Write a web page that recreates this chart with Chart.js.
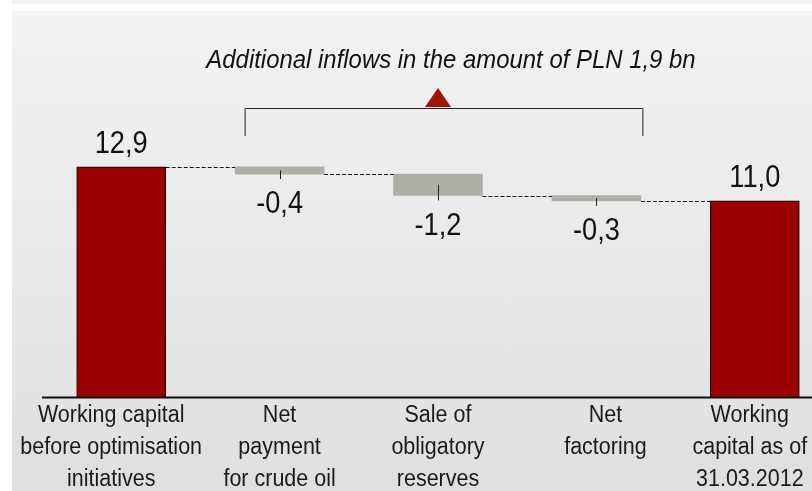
<!DOCTYPE html>
<html>
<head>
<meta charset="utf-8">
<script src="https://cdn.jsdelivr.net/npm/chart.js@4.4.1/dist/chart.umd.min.js"></script>
<style>
  html, body { margin: 0; padding: 0; background: #fff; overflow: hidden; }
  #wrap { position: relative; width: 812px; height: 491px; overflow: hidden; }
  #strip { position: absolute; left: 12px; top: 0; width: 800px; height: 4px; background: #f2f2f2; }
  #panel { position: absolute; left: 12px; top: 11px; width: 800px; height: 480px;
           background: linear-gradient(#f3f3f3, #dfdfdf); }
  canvas { position: absolute; left: 0; top: 0; }
</style>
</head>
<body>
<div id="wrap">
  <div id="strip"></div>
  <div id="panel"></div>
  <canvas id="chart" width="850" height="491"></canvas>
</div>
<script>
// categories, one line per entry
const categories = [
  ['Working capital', 'before optimisation', 'initiatives'],
  ['Net', 'payment', 'for crude oil'],
  ['Sale of', 'obligatory', 'reserves'],
  ['Net', 'factoring'],
  ['Working', 'capital as of', '31.03.2012']
]
const changes = [12.9, -0.4, -1.2, -0.3, 11.0]
const isTotal = [true, false, false, false, true]
const valueLabels = ['12,9', '-0,4', '-1,2', '-0,3', '11,0']
const title = 'Additional inflows in the amount of PLN 1,9 bn'

// floating ranges for the waterfall
let running = 0
const ranges = changes.map((v, i) => {
  if (isTotal[i]) { running = v; return [0, v] }
  const from = running
  running = running + v
  return [running, from]
})
const levels = ranges.map((r, i) => isTotal[i] ? r[1] : r[0])

const RED = '#9b0000'
const GREY = '#afafa8'
const FONT = '"Liberation Sans", Arial, sans-serif'
// small nudges of the category captions, the source placed them by hand
const labelShift = [-10, 0, 0, 9, -5]

// the source uses a narrow face, so squeeze the text a bit
function text(ctx, str, x, y, font, sx) {
  ctx.save()
  ctx.translate(x, y)
  ctx.scale(sx, 1)
  ctx.font = font
  ctx.textAlign = 'center'
  ctx.textBaseline = 'alphabetic'
  ctx.fillText(str, 0, 0)
  ctx.restore()
}

const decorations = {
  id: 'decorations',
  afterDatasetsDraw(chart) {
    const { ctx, chartArea } = chart
    const xs = chart.scales.x
    const ys = chart.scales.y
    const bars = chart.getDatasetMeta(0).data

    // connectors
    ctx.save()
    ctx.strokeStyle = '#111'
    ctx.lineWidth = 1
    ctx.setLineDash([4, 2])
    for (let i = 0; i < bars.length - 1; i++) {
      const y = Math.round(ys.getPixelForValue(levels[i])) + 0.5
      ctx.beginPath()
      ctx.moveTo(bars[i].x + bars[i].width / 2, y)
      ctx.lineTo(bars[i + 1].x - bars[i + 1].width / 2, y)
      ctx.stroke()
    }
    ctx.restore()

    // small leader ticks on the change bars
    ctx.save()
    ctx.strokeStyle = '#222'
    ctx.lineWidth = 1
    bars.forEach((b, i) => {
      if (isTotal[i]) return
      const top = ys.getPixelForValue(ranges[i][1])
      const bottom = ys.getPixelForValue(ranges[i][0])
      const x = Math.round(b.x) + 0.5
      ctx.beginPath()
      ctx.moveTo(x, (top + bottom) / 2)
      ctx.lineTo(x, bottom + 5)
      ctx.stroke()
    })
    ctx.restore()

    // axis line
    ctx.save()
    ctx.strokeStyle = '#111'
    ctx.lineWidth = 2
    ctx.beginPath()
    ctx.moveTo(chartArea.left, chartArea.bottom)
    ctx.lineTo(chartArea.right, chartArea.bottom)
    ctx.stroke()
    ctx.restore()

    // value labels
    ctx.save()
    ctx.fillStyle = '#111'
    bars.forEach((b, i) => {
      if (isTotal[i]) {
        text(ctx, valueLabels[i], b.x, ys.getPixelForValue(ranges[i][1]) - 14, '32px ' + FONT, 0.85)
      } else {
        text(ctx, valueLabels[i], b.x, ys.getPixelForValue(ranges[i][0]) + 39, '32px ' + FONT, 0.85)
      }
    })

    // category captions
    ctx.fillStyle = '#1a1a1a'
    categories.forEach((lines, i) => {
      const x = xs.getPixelForValue(i) + labelShift[i]
      lines.forEach((ln, j) => {
        text(ctx, ln, x, chartArea.bottom + 24.5 + j * 32, '23px ' + FONT, 0.935)
      })
    })

    // bracket over the change bars
    const x1 = xs.getPixelForValue(1) - 35
    const x3 = xs.getPixelForValue(3) + 46
    const mid = xs.getPixelForValue(2)
    ctx.strokeStyle = '#222'
    ctx.lineWidth = 1
    ctx.beginPath()
    ctx.moveTo(x1 + 0.5, 136)
    ctx.lineTo(x1 + 0.5, 108.5)
    ctx.lineTo(x3 + 0.5, 108.5)
    ctx.lineTo(x3 + 0.5, 136)
    ctx.stroke()

    ctx.fillStyle = '#a01505'
    ctx.beginPath()
    ctx.moveTo(mid - 13, 107)
    ctx.lineTo(mid, 88)
    ctx.lineTo(mid + 13, 107)
    ctx.closePath()
    ctx.fill()

    ctx.fillStyle = '#111'
    text(ctx, title, mid + 13, 68, 'italic 26px ' + FONT, 0.92)
    ctx.restore()
  }
}

new Chart(document.getElementById('chart'), {
  type: 'bar',
  data: {
    labels: categories,
    datasets: [{
      data: ranges,
      backgroundColor: isTotal.map(t => t ? RED : GREY),
      borderColor: '#000',
      borderWidth: isTotal.map(t => t ? 1 : 0),
      borderSkipped: false,
      barThickness: 89
    }]
  },
  options: {
    responsive: false,
    animation: false,
    layout: { padding: { left: 42, right: 16, top: 40, bottom: 93.5 } },
    plugins: { legend: { display: false }, tooltip: { enabled: false } },
    scales: {
      x: { display: false, offset: true },
      y: { display: false, min: 0, max: 20 }
    }
  },
  plugins: [decorations]
})
</script>
</body>
</html>
